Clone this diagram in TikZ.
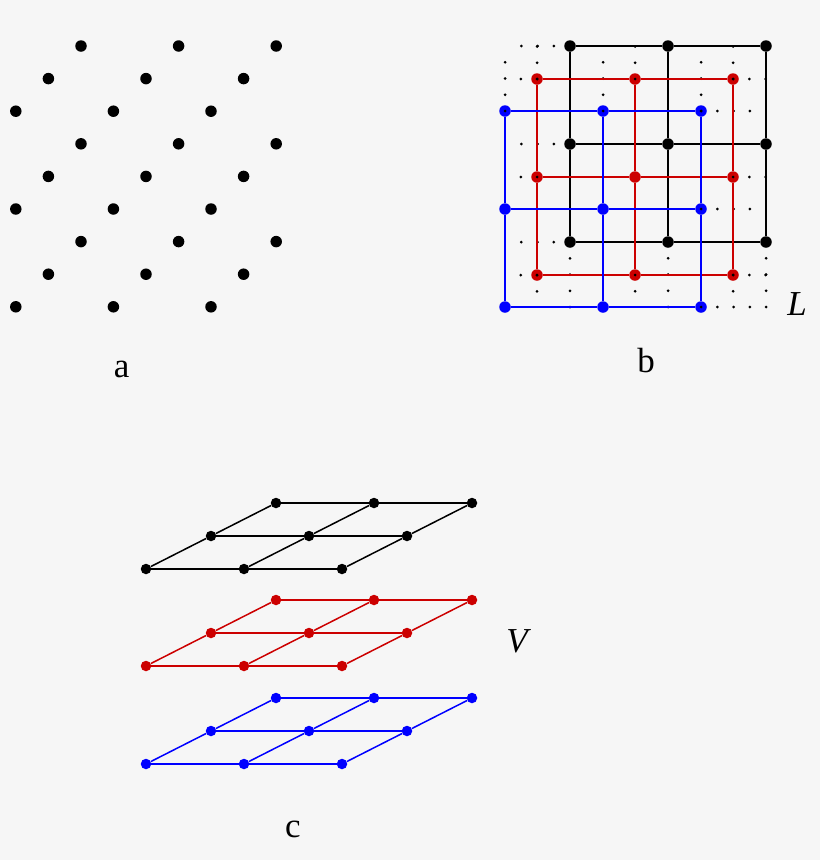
\documentclass[tikz,border=0pt]{standalone}
\usepackage{fontspec}
\setmainfont{Liberation Serif}
\definecolor{bg}{RGB}{246,246,246}
\definecolor{myred}{RGB}{204,0,0}
\definecolor{myblue}{RGB}{0,0,255}
\begin{document}
\begin{tikzpicture}[x=1pt,y=-1pt,
  dot/.style={circle,fill=#1,draw=none,inner sep=0pt,minimum size=11.5pt},
  sdot/.style={circle,fill=#1,draw=none,inner sep=0pt,minimum size=10.5pt},
  edge/.style={draw=#1,line width=1.5pt},
  dotline/.style={line width=3pt,line cap=round,dash pattern=on 0pt off 16.25pt},
  lab/.style={anchor=base,inner sep=0pt,font=\fontsize{35}{40}\selectfont}
]
\fill[bg] (0,0) rectangle (820,860);
\useasboundingbox (0,0) rectangle (820,860);

% ---------- panel a ----------
\foreach \r in {0,...,8} {
  \pgfmathtruncatemacro\m{mod(\r,3)}
  \foreach \k in {0,1,2} {
    \node[dot=black] (a-\r-\k) at ({81-32.6*\m+97.6*\k},{46+32.6*\r}) {};
  }
}
\node[lab] (la) at (121.7,377) {a};

% ---------- panel b ----------
% dotted extension end points
\foreach \j in {0,1,2} {
  \coordinate (bkL-\j) at (505,{46+98*\j});
  \coordinate (bkD-\j) at ({570+98*\j},307);
  \coordinate (buR-\j) at (766,{111+98*\j});
  \coordinate (buU-\j) at ({505+98*\j},46);
  \coordinate (brL-\j) at (505,{79+98*\j});
  \coordinate (brR-\j) at (766,{79+98*\j});
  \coordinate (brU-\j) at ({537+98*\j},46);
  \coordinate (brD-\j) at ({537+98*\j},307);
}
\foreach \L/\col/\ox/\oy in {blk/black/570/46, red/myred/537/79, blu/myblue/505/111} {
  \foreach \i in {0,1,2} {
    \foreach \j in {0,1,2} {
      \node[dot=\col] (b-\L-\i-\j) at ({\ox+98*\i},{\oy+98*\j}) {};
    }
  }
}
% dotted extensions
\foreach \j in {0,1,2} {
  \draw[dotline] (b-blk-0-\j.center) -- (bkL-\j);
  \draw[dotline] (b-blk-\j-2.center) -- (bkD-\j);
  \draw[dotline] (b-blu-2-\j.center) -- (buR-\j);
  \draw[dotline] (b-blu-\j-0.center) -- (buU-\j);
  \draw[dotline] (b-red-0-\j.center) -- (brL-\j);
  \draw[dotline] (b-red-2-\j.center) -- (brR-\j);
  \draw[dotline] (b-red-\j-0.center) -- (brU-\j);
  \draw[dotline] (b-red-\j-2.center) -- (brD-\j);
}
\foreach \L/\col in {blk/black, red/myred, blu/myblue} {
  \foreach \j in {0,1,2} {
    \draw[edge=\col] (b-\L-0-\j) -- (b-\L-1-\j) -- (b-\L-2-\j);
    \draw[edge=\col] (b-\L-\j-0) -- (b-\L-\j-1) -- (b-\L-\j-2);
  }
}
\node[lab] (lb) at (646,372) {b};
\node[lab] (lL) at (797,315) {\itshape L};

% ---------- panel c ----------
\foreach \L/\col/\yo in {blk/black/569, red/myred/666, blu/myblue/764} {
  \foreach \i in {0,1,2} {
    \foreach \j in {0,1,2} {
      \node[sdot=\col] (c-\L-\i-\j) at ({146+98*\i+65*\j},{\yo-33*\j}) {};
    }
  }
  \foreach \j in {0,1,2} {
    \draw[edge=\col] (c-\L-0-\j) -- (c-\L-1-\j) -- (c-\L-2-\j);
    \draw[edge=\col] (c-\L-\j-0) -- (c-\L-\j-1) -- (c-\L-\j-2);
  }
}
\node[lab] (lV) at (517,652) {\itshape V};
\node[lab] (lc) at (293,837) {c};
\end{tikzpicture}
\end{document}
